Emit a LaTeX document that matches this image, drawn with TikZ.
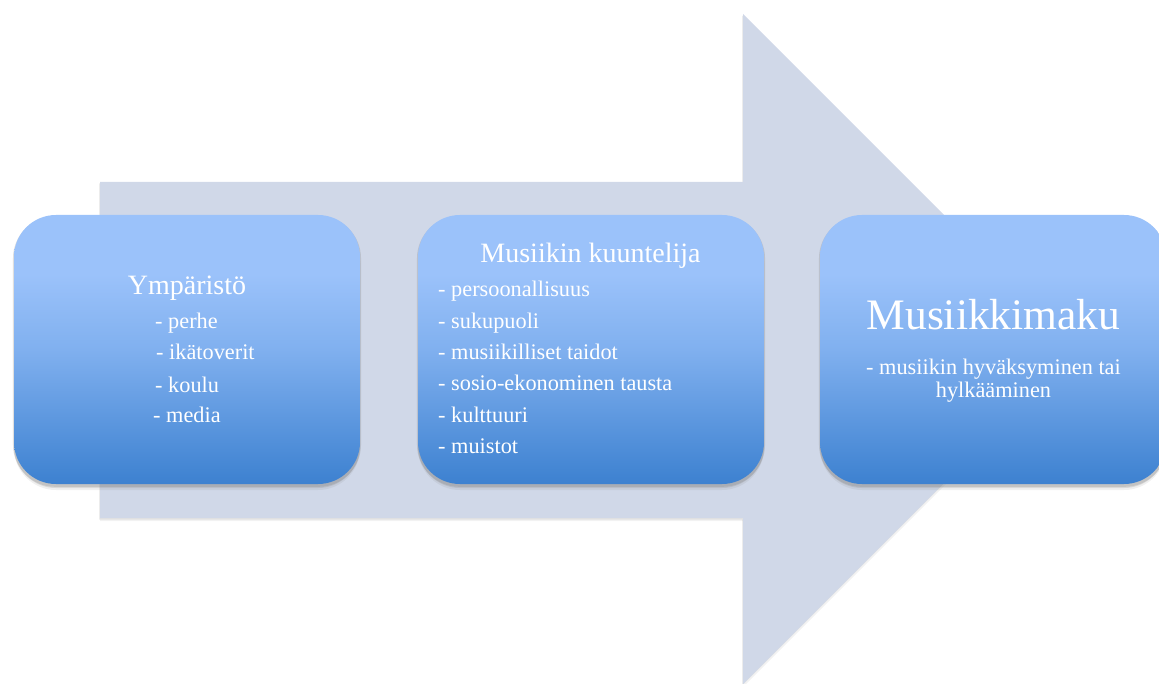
\documentclass[tikz,border=0pt]{standalone}
\usepackage{fontspec}
\setmainfont{Liberation Serif}
\usetikzlibrary{shadows}
\definecolor{arrowfill}{HTML}{D0D8E8}
\definecolor{boxtop}{HTML}{9BC2FA}
\definecolor{boxmid}{HTML}{80B0EF}
\definecolor{boxbot}{HTML}{3D81D0}
\pgfdeclareverticalshading{boxshade}{100bp}{color(0bp)=(boxbot); color(25bp)=(boxbot); color(50bp)=(boxmid); color(64bp)=(boxtop); color(100bp)=(boxtop)}
\tikzset{
  bigarrow/.style={fill=arrowfill, draw=none,
    drop shadow={shadow xshift=0pt, shadow yshift=-3pt, opacity=0.10},
    drop shadow={shadow xshift=-1pt, shadow yshift=-1.5pt, opacity=0.15}},
  roundbox/.style={draw=none, shading=boxshade, rounded corners=42pt, minimum width=346pt, minimum height=269pt, inner sep=0pt,
    drop shadow={shadow xshift=0pt, shadow yshift=-6pt, opacity=0.12},
    drop shadow={shadow xshift=0pt, shadow yshift=-4pt, opacity=0.2},
    drop shadow={shadow xshift=0pt, shadow yshift=-2pt, opacity=0.25, shadow scale=1.006}},
  title/.style={text=white, font=\fontsize{28}{31}\selectfont, inner sep=0pt, anchor=base},
  bigtitle/.style={text=white, font=\fontsize{43.5}{48}\selectfont, inner sep=0pt, anchor=base},
  item/.style={text=white, font=\fontsize{22.3}{24}\selectfont, inner sep=0pt, anchor=base west},
  citem/.style={text=white, font=\fontsize{22.3}{24}\selectfont, inner sep=0pt, anchor=base},
}
\begin{document}
\begin{tikzpicture}[x=1pt,y=-1pt]
\useasboundingbox (0,0) rectangle (1159,684);
\path[bigarrow] (100,182) -- (743,182) -- (743,14) -- (1078,349) -- (743,684) -- (743,518) -- (100,518) -- cycle;
\node[roundbox] (b1) at (187,349.5) {};
\node[roundbox] (b2) at (591,349.5) {};
\node[roundbox] (b3) at (993,349.5) {};
% box 1
\node[title] (t1) at (187,295) {Ympäristö};
\node[item] (i11) at (155,329) {- perhe};
\node[item] (i12) at (156,360) {- ikätoverit};
\node[item] (i13) at (155,392) {- koulu};
\node[item] (i14) at (153,422) {- media};
% box 2
\node[title] (t2) at (590.5,263) {Musiikin kuuntelija};
\node[item] (i21) at (438,297) {- persoonallisuus};
\node[item] (i22) at (438,329) {- sukupuoli};
\node[item] (i23) at (438,360) {- musiikilliset taidot};
\node[item] (i24) at (438,391) {- sosio-ekonominen tausta};
\node[item] (i25) at (438,422) {- kulttuuri};
\node[item] (i26) at (438,453) {- muistot};
% box 3
\node[bigtitle] (t3) at (993.5,330) {Musiikkimaku};
\node[citem] (i31) at (993.5,375) {- musiikin hyväksyminen tai};
\node[citem] (i32) at (993.5,398) {hylkääminen};
\end{tikzpicture}
\end{document}
